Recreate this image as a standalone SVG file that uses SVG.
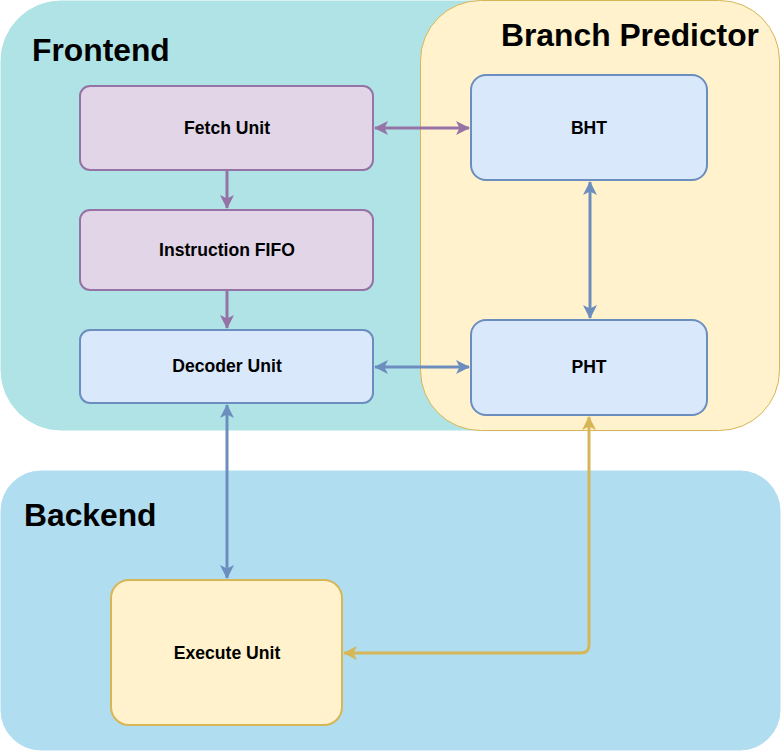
<svg xmlns="http://www.w3.org/2000/svg" width="781" height="751" viewBox="0 0 781 751">
<defs>
<style>
.title{font-family:"Liberation Sans",Arial,sans-serif;font-weight:bold;font-size:31.8px;fill:#000}
.lbl{font-family:"Liberation Sans",Arial,sans-serif;font-weight:bold;font-size:17.6px;fill:#000;text-anchor:middle}
.purple{fill:#e1d5e7;stroke:#9673a6;stroke-width:2}
.blue{fill:#dae8fc;stroke:#6c8ebf;stroke-width:2}
.yellow{fill:#fff2cc;stroke:#d6b656;stroke-width:2}
.cp{fill:none;stroke:#9673a6;stroke-width:3}
.cb{fill:none;stroke:#6c8ebf;stroke-width:3}
.cy{fill:none;stroke:#d6b656;stroke-width:3}
</style>
<marker id="ap" viewBox="0 0 14 14" refX="13" refY="7" markerWidth="14" markerHeight="14" markerUnits="userSpaceOnUse" orient="auto-start-reverse"><path d="M0,0 L14,7 L0,14 L3.5,7 Z" fill="#9673a6"/></marker>
<marker id="ab" viewBox="0 0 14 14" refX="13" refY="7" markerWidth="14" markerHeight="14" markerUnits="userSpaceOnUse" orient="auto-start-reverse"><path d="M0,0 L14,7 L0,14 L3.5,7 Z" fill="#6c8ebf"/></marker>
<marker id="ay" viewBox="0 0 14 14" refX="13" refY="7" markerWidth="14" markerHeight="14" markerUnits="userSpaceOnUse" orient="auto-start-reverse"><path d="M0,0 L14,7 L0,14 L3.5,7 Z" fill="#d6b656"/></marker>
</defs>
<rect width="781" height="751" fill="#fff"/>
<g id="frontend">
<rect x="1" y="1" width="560" height="429" rx="60" fill="#b0e3e6" stroke="#b0e3e6"/>
<text class="title" x="32" y="61">Frontend</text>
</g>
<g id="branch-predictor">
<rect x="420.5" y="0.5" width="359" height="430" rx="60" fill="#fff2cc" stroke="#d6b656" stroke-width="1"/>
<text class="title" x="759" y="46" text-anchor="end">Branch Predictor</text>
</g>
<g id="backend">
<rect x="1" y="471" width="779" height="279" rx="40" fill="#b1ddf0" stroke="#b1ddf0"/>
<text class="title" x="24" y="526">Backend</text>
</g>
<g id="fetch-unit">
<rect class="purple" x="80" y="86" width="293" height="84" rx="10"/>
<text class="lbl" x="227" y="134">Fetch Unit</text>
</g>
<g id="instruction-fifo">
<rect class="purple" x="80" y="210" width="293" height="80" rx="10"/>
<text class="lbl" x="227" y="256">Instruction FIFO</text>
</g>
<g id="decoder-unit">
<rect class="blue" x="80" y="330" width="293" height="73" rx="10"/>
<text class="lbl" x="227" y="372">Decoder Unit</text>
</g>
<g id="bht">
<rect class="blue" x="471" y="75" width="236" height="105" rx="15"/>
<text class="lbl" x="589" y="134">BHT</text>
</g>
<g id="pht">
<rect class="blue" x="471" y="320" width="236" height="95" rx="15"/>
<text class="lbl" x="589" y="373">PHT</text>
</g>
<g id="execute-unit">
<rect class="yellow" x="111" y="580" width="231" height="145" rx="18"/>
<text class="lbl" x="227" y="659">Execute Unit</text>
</g>
<g id="connectors">
<path class="cp" d="M375,128 L469,128" marker-start="url(#ap)" marker-end="url(#ap)"/>
<path class="cp" d="M227,170 L227,208" marker-end="url(#ap)"/>
<path class="cp" d="M227,290 L227,328" marker-end="url(#ap)"/>
<path class="cb" d="M375,367 L469,367" marker-start="url(#ab)" marker-end="url(#ab)"/>
<path class="cb" d="M590,182 L590,318" marker-start="url(#ab)" marker-end="url(#ab)"/>
<path class="cb" d="M227,405 L227,578" marker-start="url(#ab)" marker-end="url(#ab)"/>
<path class="cy" d="M589,417 L589,645 Q589,653 581,653 L344,653" marker-start="url(#ay)" marker-end="url(#ay)"/>
</g>
</svg>
